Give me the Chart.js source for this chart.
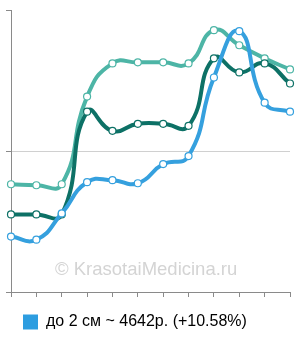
<!DOCTYPE html>
<html>
<head>
<meta charset="utf-8">
<script src="https://cdn.jsdelivr.net/npm/chart.js@4/dist/chart.umd.min.js"></script>
<style>
  html, body { margin: 0; padding: 0; background: #fff; }
  #wrap { position: relative; width: 300px; height: 340px; }
  #watermark {
    position: absolute; left: 55px; top: 258px;
    font-family: "Liberation Sans", Arial, sans-serif; font-size: 18.5px;
    color: #d4d4d4; pointer-events: none; white-space: nowrap;
  }
</style>
</head>
<body>
<div id="wrap">
  <canvas id="chart" width="300" height="340"></canvas>
  <div id="watermark">© KrasotaiMedicina.ru</div>
</div>
<script>
  // Data (relative price level, no axis labels shown)
  const labels = ["1", "2", "3", "4", "5", "6", "7", "8", "9", "10", "11", "12"];
  const bluePrices = [55, 52, 78, 109, 111, 108, 127, 135, 213, 259, 188, 179];
  const darkPrices = [77, 77, 77, 179, 160, 167, 167, 165, 232, 218, 227, 207];
  const lightPrices = [107, 106, 107, 194, 227, 228, 228, 227, 260, 245, 232, 221];
  const seriesNames = ["до 2 см ~ 4642р. (+10.58%)", "2-5 см", "более 5 см"];

  const axisGray = "#8a8a8a";

  function lineSet(name, data, color) {
    return {
      label: name,
      data: data,
      borderColor: color,
      backgroundColor: color,
      borderWidth: 4,
      tension: 0.5,
      pointRadius: 3.5,
      pointBorderWidth: 1.2,
      pointBackgroundColor: "#fff",
      pointBorderColor: color,
      fill: false
    };
  }

  new Chart(document.getElementById("chart"), {
    type: "line",
    data: {
      labels: labels,
      datasets: [
        lineSet(seriesNames[0], bluePrices, "#35a0de"),
        lineSet(seriesNames[1], darkPrices, "#0d7166"),
        lineSet(seriesNames[2], lightPrices, "#4db5a6")
      ]
    },
    options: {
      responsive: false,
      animation: false,
      layout: { padding: { left: 6, right: 10, top: 10, bottom: 0 } },
      plugins: {
        tooltip: { enabled: false },
        legend: {
          position: "bottom",
          align: "start",
          labels: {
            boxWidth: 15,
            boxHeight: 15,
            padding: 17,
            color: "#222",
            font: { family: "'Liberation Sans', Arial, sans-serif", size: 16 },
            generateLabels: chart => [{
              text: seriesNames[0],
              fillStyle: "#2d9de0",
              strokeStyle: "#2d9de0",
              lineWidth: 0,
              datasetIndex: 0
            }]
          }
        }
      },
      scales: {
        x: {
          offset: false,
          border: { display: true, color: axisGray, width: 1 },
          grid: { drawOnChartArea: false, drawTicks: true, tickLength: 5, tickColor: axisGray },
          ticks: { display: false }
        },
        y: {
          min: 0,
          max: 280,
          border: { display: true, color: axisGray, width: 1 },
          grid: {
            tickLength: 5,
            tickColor: axisGray,
            color: ctx => (ctx.tick && ctx.tick.value === 140) ? "#d0d0d0" : "rgba(0,0,0,0)"
          },
          ticks: { display: false, stepSize: 140 }
        }
      }
    }
  });
</script>
</body>
</html>
